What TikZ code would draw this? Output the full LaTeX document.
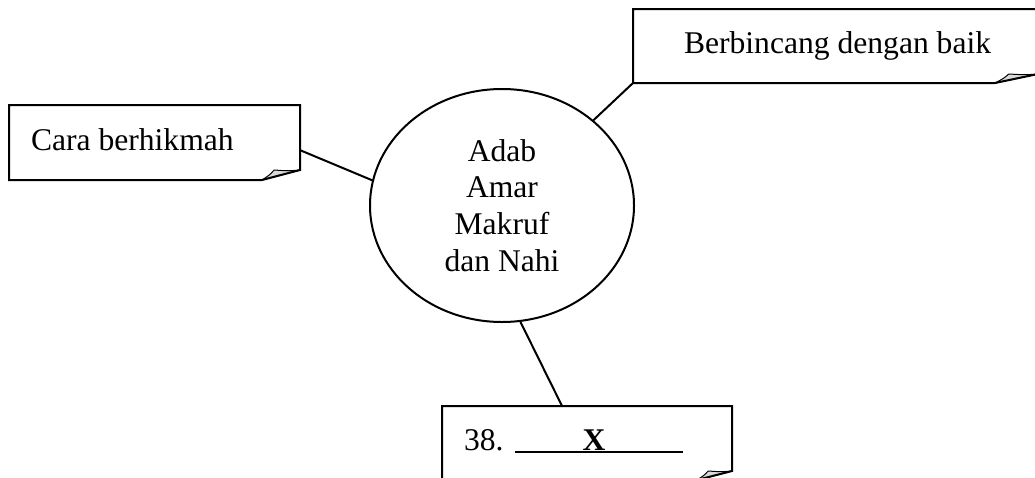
\documentclass[tikz,border=0pt]{standalone}
\usepackage{fontspec}
\setmainfont{Liberation Serif}
\usetikzlibrary{shapes.geometric,calc}

\newcommand{\notefont}{\fontsize{31.6}{36.7}\selectfont}
\tikzset{
  notebox/.style={rectangle,inner sep=0pt,anchor=north west},
  notetext/.style={font=\notefont,inner sep=0pt,anchor=base west},
  fold/.style={fill=black!15,line width=1pt,line join=round},
}

\begin{document}
\begin{tikzpicture}[x=1pt,y=-1pt,line width=2pt]
    \useasboundingbox (0,0) rectangle (1035,477);

    % note boxes
    \node[notebox,minimum width=289pt,minimum height=73pt] (cara) at (9,105) {};
    \node[notebox,minimum width=403pt,minimum height=72pt] (bincang) at (633,9) {};
    \node[notebox,minimum width=288pt,minimum height=72pt] (soal) at (442,406) {};

    \foreach \n/\dx/\dy in {cara/38/10,bincang/43/9,soal/35/9} {
      \filldraw[fold] ($(\n.south east)+(-\dx,0)$)
        .. controls ($(\n.south east)+(-0.8*\dx,-0.5*\dy)$) .. ($(\n.south east)+(-0.68*\dx,-\dy)$)
        .. controls ($(\n.south east)+(-0.3*\dx,-0.9*\dy)$) .. ($(\n.south east)+(0,-\dy)$) -- cycle;
      \draw (\n.north west) -- (\n.north east) -- ($(\n.south east)+(0,-\dy)$)
        -- ($(\n.south east)+(-\dx,0)$) -- (\n.south west) -- cycle;
    }

    \node[notetext] (caratext) at (30,150) {Cara berhikmah};
    \node[notetext] (bincangtext) at (683,53) {Berbincang dengan baik};
    \node[notetext] (soaltext) at (463,450)
      {38.\hspace{11.5pt}\rlap{\rule[-3pt]{168pt}{1.8pt}}\hspace{67.6pt}\textbf{X}};

    % centre
    \node[ellipse,draw,minimum width=264pt,minimum height=233pt,inner sep=0pt,
      font=\notefont,align=center] (mind) at (502,205.5) {Adab\\Amar\\Makruf\\dan Nahi};

    \draw (cara.-3) -- (mind.169);
    \draw (bincang.south west) -- (mind.43);
    \draw (mind.-81) -- (soal.124);
\end{tikzpicture}
\end{document}
